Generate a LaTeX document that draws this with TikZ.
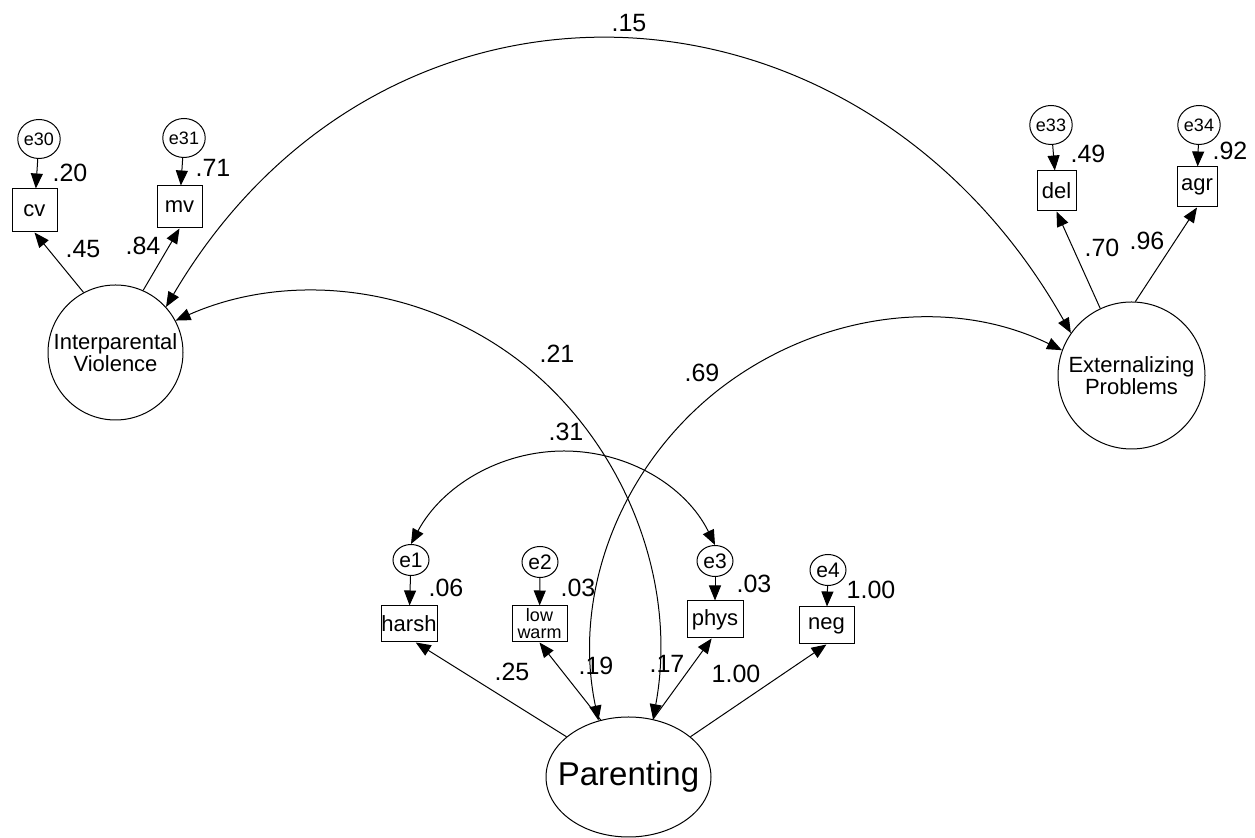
\documentclass[tikz,border=0pt]{standalone}
\usepackage{fontspec}
\setmainfont{Liberation Sans}
\usetikzlibrary{arrows.meta, shapes.geometric}

\begin{document}
\begin{tikzpicture}[x=0.5pt,y=-0.5pt,line width=0.5pt,
  reg/.style={-{Triangle[length=7.5pt,width=6pt]}},
  cov/.style={{Triangle[length=7.5pt,width=6pt]}-{Triangle[length=7.5pt,width=6pt]}},
  lat/.style={draw, circle, inner sep=0pt, align=center, font=\fontsize{11}{10}\selectfont},
  obs/.style={draw, rectangle, inner sep=0pt, font=\fontsize{11}{12}\selectfont},
  err/.style={draw, ellipse, inner sep=0pt, minimum width=21pt, minimum height=19.5pt, font=\fontsize{9}{10}\selectfont},
  errp/.style={draw, ellipse, inner sep=0pt, minimum width=18pt, minimum height=15.5pt, font=\fontsize{10.5}{12}\selectfont},
  coef/.style={inner sep=0pt, font=\fontsize{12.5}{14}\selectfont}]
\useasboundingbox (0,0) rectangle (1255,838);

%Latent variables
\node[lat, minimum size=67.5pt] (IV) at (115.5,352.5) {Interparental\\Violence};
\node[lat, minimum size=73.5pt] (EP) at (1131.5,375.5) {Externalizing\\Problems};
\node[draw, ellipse, inner sep=0pt, minimum width=82.5pt, minimum height=60pt, font=\fontsize{16.5}{18}\selectfont] (Par) at (628.5,777) {\makebox[0pt]{Parenting}};

%Observed variables
\node[obs, minimum width=22.5pt, minimum height=21.5pt] (cv) at (34.5,210.5) {cv};
\node[obs, minimum width=22.5pt, minimum height=21pt] (mv) at (179.5,207) {mv};
\node[obs, minimum width=19.5pt, minimum height=20pt] (del) at (1056.5,191) {del};
\node[obs, minimum width=20pt, minimum height=20pt] (agr) at (1197,187) {agr};
\node[obs, minimum width=28pt, minimum height=18pt] (harsh) at (409,624) {harsh};
\node[obs, minimum width=27.5pt, minimum height=18pt, align=center, font=\fontsize{9}{8.5}\selectfont] (lw) at (539.5,624) {low\\warm};
\node[obs, minimum width=28pt, minimum height=18.5pt] (phys) at (715,619.5) {phys};
\node[obs, minimum width=27.5pt, minimum height=18.5pt] (neg) at (826.5,625.5) {neg};

%Error terms
\node[err] (e30) at (39,139) {e30};
\node[err] (e31) at (184,138) {e31};
\node[err] (e33) at (1051,125) {e33};
\node[err] (e34) at (1199,125) {e34};
\node[errp] (e1) at (411,560) {e1};
\node[errp] (e2) at (540,562) {e2};
\node[errp] (e3) at (715,561) {e3};
\node[errp] (e4) at (828,570) {e4};

%Error paths
\draw[reg] (e30) -- (cv);
\draw[reg] (e31) -- (mv);
\draw[reg] (e33) -- (del);
\draw[reg] (e34) -- (agr);
\draw[reg] (e1) -- (harsh);
\draw[reg] (e2) -- (lw);
\draw[reg] (e3) -- (phys);
\draw[reg] (e4) -- (neg);

%Loadings
\draw[reg] (IV.118) -- (cv.south);
\draw[reg] (IV.66) -- (mv.south);
\draw[reg] (EP.115) -- (del.south);
\draw[reg] (EP.87) -- (agr.south);
\draw[reg] (Par.147) -- (harsh.-70);
\draw[reg] (Par.116) -- (lw.south);
\draw[reg] (Par.67) -- (phys.-100);
\draw[reg] (Par.33) -- (neg.south);

%Covariances
\draw[cov] (IV.42) .. controls (384,-63) and (859,-42) .. (EP.145);
\draw[cov] (IV.28) .. controls (290,270) and (426,285) .. (527,367) .. controls (628,450) and (678,585) .. (Par.67);
\draw[cov] (Par.118) .. controls (572,595) and (619,469) .. (717,391) .. controls (816,313) and (949,295) .. (EP.160);
\draw[cov] (e1.north) .. controls (442,486) and (500,451) .. (564,451) .. controls (628,451) and (686,486) .. (e3.north);

%Coefficients
\node[coef] (k20) at (70,173) {.20};
\node[coef] (k71) at (213,168) {.71};
\node[coef] (k45) at (83,249) {.45};
\node[coef] (k84) at (143,246) {.84};
\node[coef] (k49) at (1088,154) {.49};
\node[coef] (k92) at (1230,151) {.92};
\node[coef] (k70) at (1102,248) {.70};
\node[coef] (k96) at (1147,241) {.96};
\node[coef] (k06) at (446,588) {.06};
\node[coef] (k03a) at (578,588) {.03};
\node[coef] (k03b) at (754,584) {.03};
\node[coef] (k100a) at (871,590) {1.00};
\node[coef] (k25) at (512,672) {.25};
\node[coef] (k19) at (596,666) {.19};
\node[coef] (k17) at (667,664) {.17};
\node[coef] (k100b) at (736,674) {1.00};
\node[coef] (k31) at (566,432) {.31};
\node[coef] (k21) at (557,354) {.21};
\node[coef] (k69) at (702,373) {.69};
\node[coef] (k15) at (629,23) {.15};

\end{tikzpicture}
\end{document}
